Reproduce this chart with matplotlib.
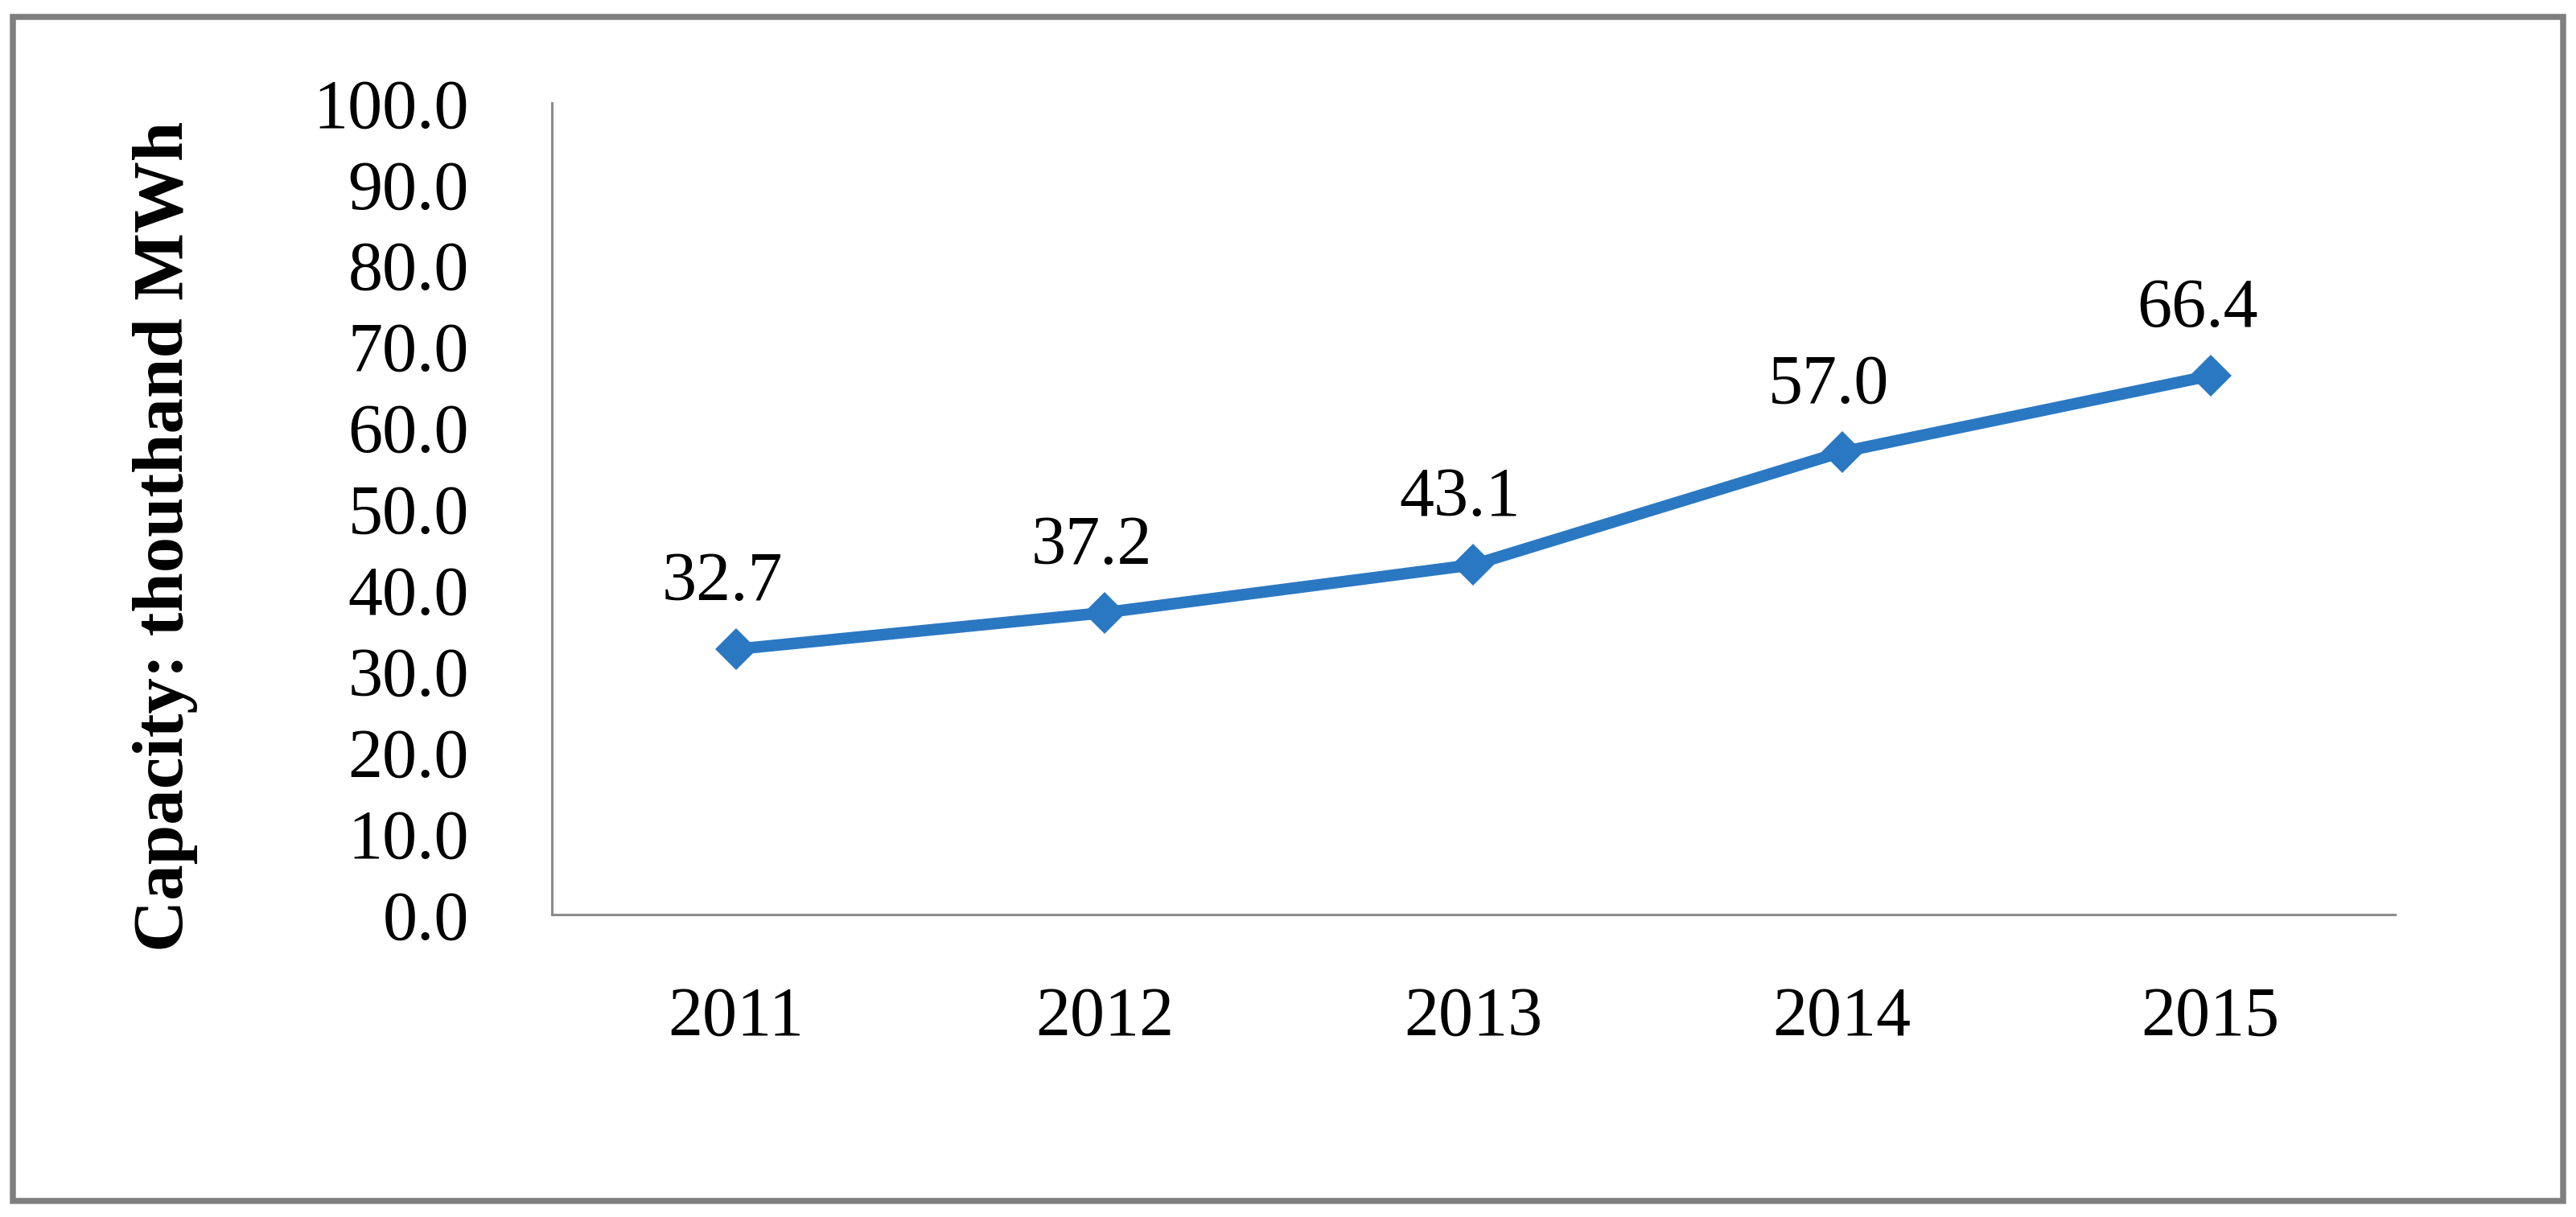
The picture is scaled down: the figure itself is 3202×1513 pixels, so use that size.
import matplotlib.pyplot as plt
from matplotlib.patches import Rectangle

years = ["2011", "2012", "2013", "2014", "2015"]
capacity = [32.7, 37.2, 43.1, 57.0, 66.4]
y_ticks = [0, 10, 20, 30, 40, 50, 60, 70, 80, 90, 100]

plt.rcParams['font.family'] = ['Liberation Serif', 'DejaVu Serif']

fig = plt.figure(figsize=(16.01, 7.565), dpi=200)
ax = fig.add_axes([0.2142, 0.2485, 0.9297 - 0.2142, 0.9154 - 0.2485])

x = range(len(years))
ax.plot(x, capacity, color='#2B78C2', linewidth=5.2, marker='D',
        markersize=13, markeredgewidth=0, solid_capstyle='round')

# value labels above points
for xi, v in zip(x, capacity):
    ax.annotate(f"{v:.1f}", (xi, v), xytext=(-6, 22), textcoords='offset points',
                ha='center', va='baseline', fontsize=31, color='black')

ax.set_xlim(-0.5, len(years) - 0.5)
ax.set_ylim(0, 100)
ax.set_xticks(list(x))
ax.set_xticklabels(years)
ax.set_yticks(y_ticks)
ax.set_yticklabels([f"{t:.1f}" for t in y_ticks])
ax.tick_params(axis='y', length=0, pad=37, labelsize=31)
ax.tick_params(axis='x', length=0, pad=32, labelsize=31)

for side in ['top', 'right']:
    ax.spines[side].set_visible(False)
for side in ['left', 'bottom']:
    ax.spines[side].set_color('#8C8C8C')
    ax.spines[side].set_linewidth(1.1)

fig.text(0.0643, 0.559, "Capacity: thouthand MWh", rotation=90, fontsize=32,
         fontweight='bold', ha='center', va='center')

# outer frame
fig.patches.append(Rectangle((0.00515, 0.0132), 0.9898, 0.9732, transform=fig.transFigure,
                             fill=False, edgecolor='#7F7F7F', linewidth=2.7))

fig.savefig("out.png", dpi=200, facecolor='white')
